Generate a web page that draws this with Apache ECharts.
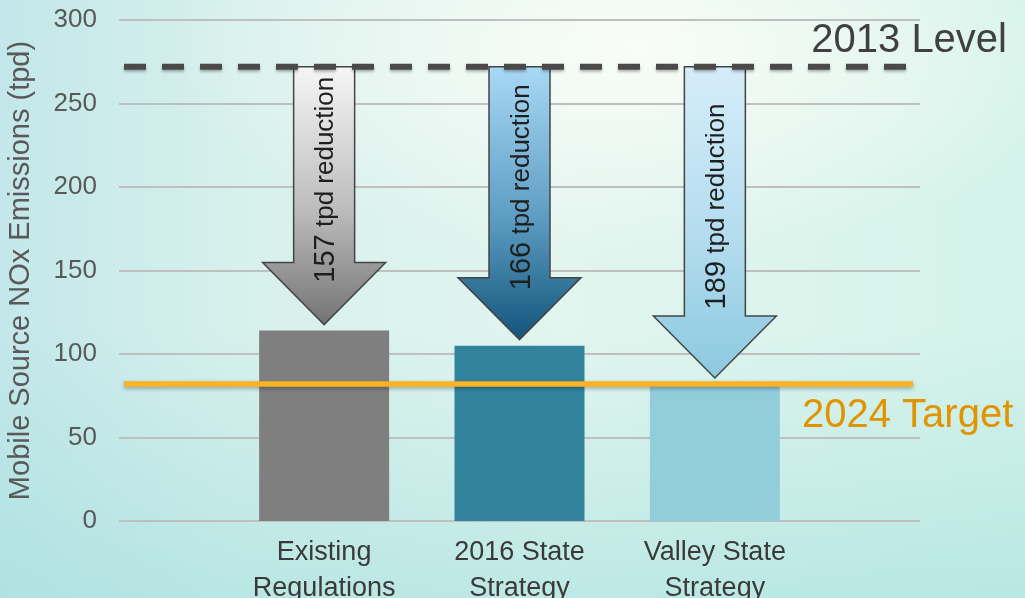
<!DOCTYPE html>
<html>
<head>
<meta charset="utf-8">
<script src="https://cdn.jsdelivr.net/npm/echarts@6/dist/echarts.min.js"></script>
<style>
html, body { margin: 0; padding: 0; width: 1025px; height: 598px; overflow: hidden; }
body {
  background:
    radial-gradient(ellipse 45% 35% at 62% 8%, rgba(250,253,247,0.95) 0%, rgba(245,251,246,0.5) 55%, rgba(245,251,246,0) 100%),
    linear-gradient(to bottom, rgba(170,226,224,0) 55%, rgba(160,222,220,0.55) 100%),
    linear-gradient(to right, #c3e7ea 0%, #d6f0ec 22%, #e2f5ef 55%, #d4f3ea 100%);
}
#main { width: 1025px; height: 598px; }
</style>
</head>
<body>
<div id="main"></div>
<script>
// data
var categories = ['Existing\nRegulations', '2016 State\nStrategy', 'Valley State\nStrategy'];
var positions = [1, 2, 3];
var emissions = [114, 105, 82];
var reductions = [157, 166, 189];
var level2013 = 272;
var target2024 = 82;

var barColors = ['#7f7f7f', '#31849b', '#92cddc'];
var arrowStops = [
  [['#f6f6f6', 0], ['#bdbdbd', 0.55], ['#737373', 1]],
  [['#a9d9f5', 0], ['#5d9dc3', 0.55], ['#12547b', 1]],
  [['#d6edfa', 0], ['#b3dcee', 0.55], ['#8bc9df', 1]]
];

var barData = [];
var arrowData = [];
for (var i = 0; i < positions.length; i++) {
  barData.push({ value: [positions[i], emissions[i]], itemStyle: { color: barColors[i] } });
  arrowData.push([positions[i], emissions[i], reductions[i]]);
}

var dom = document.getElementById('main');
var myChart = echarts.init(dom, null, { renderer: 'canvas' });

function renderArrow(params, api) {
  var x = api.value(0);
  var top = api.coord([x, level2013]);
  var base = api.coord([x, api.value(1)]);
  var cx = top[0], y0 = top[1], tip = base[1] - 6;
  var sh = 30.5, hh = 61.5, headH = 62;
  var hy = tip - headH;
  var stops = arrowStops[params.dataIndex].map(function (s) { return { offset: s[1], color: s[0] }; });
  return {
    type: 'group',
    children: [
      {
        type: 'polygon',
        shape: { points: [[cx - sh, y0], [cx + sh, y0], [cx + sh, hy], [cx + hh, hy], [cx, tip], [cx - hh, hy], [cx - sh, hy]] },
        style: {
          fill: { type: 'linear', x: 0, y: 0, x2: 0, y2: 1, colorStops: stops },
          stroke: '#444', lineWidth: 1.5
        }
      },
      {
        type: 'text',
        x: cx + 2, y: (y0 + tip) / 2 - 16,
        rotation: Math.PI / 2,
        style: {
          text: '{n|' + api.value(2) + '} tpd reduction',
          fill: '#1e1e1e',
          font: '26px "Liberation Sans", Arial, sans-serif',
          align: 'center', verticalAlign: 'middle',
          rich: { n: { fontSize: 29, fill: '#1e1e1e', fontFamily: 'Liberation Sans' } }
        }
      }
    ]
  };
}

function renderLevel(params, api) {
  var cs = params.coordSys;
  var y = api.coord([0, api.value(0)])[1];
  return {
    type: 'group',
    children: [
      {
        type: 'line',
        shape: { x1: cs.x + 5, y1: y, x2: cs.x + cs.width - 13, y2: y },
        style: { stroke: '#4a4a4a', lineWidth: 6, lineDash: [22, 16], shadowBlur: 3, shadowColor: 'rgba(0,0,0,0.3)', shadowOffsetY: 2 }
      },
      {
        type: 'text', x: 1007, y: y - 26,
        style: { text: '2013 Level', fill: '#404040', font: '40px "Liberation Sans", Arial, sans-serif', align: 'right', verticalAlign: 'middle' }
      }
    ]
  };
}

function renderTarget(params, api) {
  var cs = params.coordSys;
  var y = api.coord([0, api.value(0)])[1];
  return {
    type: 'group',
    children: [
      {
        type: 'line',
        shape: { x1: cs.x + 5, y1: y, x2: cs.x + cs.width - 7, y2: y },
        style: { stroke: '#f9b324', lineWidth: 5.5, shadowBlur: 4, shadowColor: 'rgba(0,0,0,0.3)', shadowOffsetY: 2 }
      },
      {
        type: 'text', x: 802, y: y + 32,
        style: { text: '2024 Target', fill: '#e09400', font: '40px "Liberation Sans", Arial, sans-serif', align: 'left', verticalAlign: 'middle' }
      }
    ]
  };
}

var option = {
  animation: false,
  backgroundColor: 'transparent',
  grid: { left: 119, right: 105, top: 20, bottom: 77, outerBoundsMode: 'none', containLabel: false },
  xAxis: {
    type: 'value',
    min: -0.05,
    max: 4.05,
    axisLine: { show: false },
    axisTick: { show: false },
    splitLine: { show: false },
    axisLabel: {
      customValues: positions,
      formatter: function (v) { return categories[Math.round(v) - 1] || ''; },
      color: '#3a3a3a',
      fontSize: 27,
      lineHeight: 36,
      margin: 14,
      fontFamily: 'Liberation Sans'
    }
  },
  yAxis: {
    type: 'value',
    min: 0,
    max: 300,
    interval: 50,
    name: 'Mobile Source NOx Emissions (tpd)',
    nameLocation: 'middle',
    nameGap: 84,
    nameTextStyle: { color: '#595959', fontSize: 29, fontFamily: 'Liberation Sans' },
    axisLine: { show: false },
    axisTick: { show: false },
    axisLabel: { color: '#595959', fontSize: 26, margin: 22, fontFamily: 'Liberation Sans' },
    splitLine: { lineStyle: { color: '#bfbfbf', width: 2 } }
  },
  series: [
    { type: 'bar', data: barData, barWidth: 130, z: 2 },
    { type: 'custom', renderItem: renderArrow, data: arrowData, z: 3 },
    { type: 'custom', renderItem: renderLevel, data: [[level2013]], z: 4 },
    { type: 'custom', renderItem: renderTarget, data: [[target2024]], z: 5 }
  ]
};

if (option && typeof option === 'object') {
  myChart.setOption(option, true);
}
</script>
</body>
</html>
